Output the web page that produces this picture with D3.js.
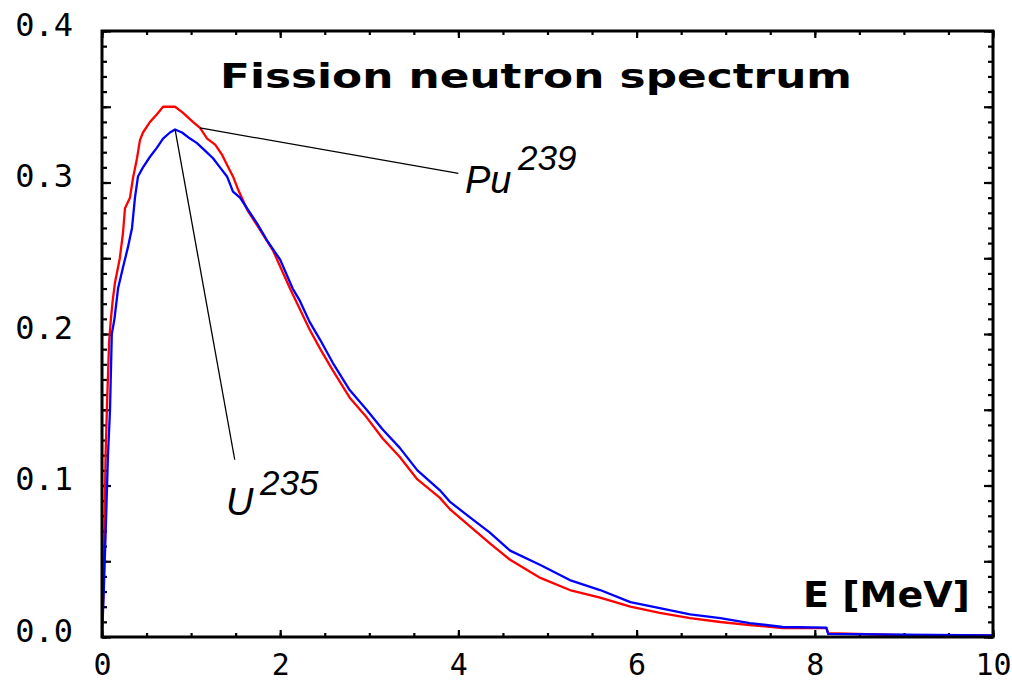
<!DOCTYPE html>
<html>
<head>
<meta charset="utf-8">
<script src="https://cdn.jsdelivr.net/npm/d3@7"></script>
<style>
  html, body { margin: 0; padding: 0; background: #fff; }
  svg { display: block; }
</style>
</head>
<body>
<svg id="chart" width="1012" height="683"></svg>
<script>
// Energy grid (MeV) and spectrum values for Pu-239
const puE = [0, 0.01, 0.02, 0.04, 0.06, 0.08, 0.10, 0.12, 0.146, 0.20,
  0.236, 0.258, 0.314, 0.348, 0.393, 0.426, 0.46, 0.539, 0.617, 0.685,
  0.82, 0.91, 1.02, 1.10, 1.18, 1.27, 1.35, 1.40, 1.47, 1.53,
  1.63, 1.77, 1.92, 2.11, 2.33, 2.45, 2.59, 2.78, 2.97, 3.15,
  3.34, 3.54, 3.79, 3.91, 4.13, 4.35, 4.58, 4.92, 5.25, 5.59,
  5.93, 6.26, 6.6, 6.94, 7.27, 7.64, 8.13, 8.15, 9.0, 10];
const puVal = [0, 0.02, 0.035, 0.12, 0.16, 0.195, 0.21, 0.222, 0.234, 0.25,
  0.267, 0.283, 0.29, 0.303, 0.316, 0.328, 0.333, 0.34, 0.345, 0.35,
  0.35, 0.346, 0.34, 0.336, 0.329, 0.325, 0.318, 0.312, 0.304, 0.295,
  0.282, 0.269, 0.255, 0.23, 0.203, 0.19, 0.176, 0.158, 0.145, 0.131,
  0.119, 0.104, 0.092, 0.084, 0.073, 0.062, 0.051, 0.039, 0.031, 0.026,
  0.020, 0.016, 0.0125, 0.0099, 0.0079, 0.0059, 0.0059, 0.0025, 0.0012, 0.001];

// Energy grid (MeV) and spectrum values for U-235
const uE = [0, 0.01, 0.02, 0.045, 0.067, 0.09, 0.11, 0.14, 0.18, 0.236,
  0.29, 0.337, 0.37, 0.404, 0.46, 0.539, 0.617, 0.685, 0.763, 0.82,
  0.898, 0.988, 1.066, 1.156, 1.246, 1.324, 1.403, 1.47, 1.549, 1.627,
  1.74, 1.85, 2.0, 2.14, 2.22, 2.33, 2.45, 2.59, 2.78, 2.97,
  3.15, 3.34, 3.54, 3.79, 3.91, 4.13, 4.35, 4.58, 4.92, 5.25,
  5.59, 5.93, 6.26, 6.6, 6.94, 7.27, 7.64, 8.13, 8.15, 9.0, 10];
const uVal = [0, 0.015, 0.03, 0.077, 0.12, 0.15, 0.2, 0.21, 0.23, 0.244,
  0.257, 0.27, 0.29, 0.304, 0.31, 0.317, 0.323, 0.329, 0.333, 0.335,
  0.333, 0.329, 0.326, 0.321, 0.316, 0.31, 0.304, 0.294, 0.29, 0.283,
  0.273, 0.262, 0.249, 0.23, 0.222, 0.208, 0.196, 0.181, 0.163, 0.150,
  0.137, 0.125, 0.110, 0.097, 0.089, 0.079, 0.069, 0.057, 0.0475, 0.0376,
  0.031, 0.023, 0.019, 0.015, 0.0125, 0.0092, 0.0066, 0.0062, 0.002, 0.0015, 0.001];

// Tick values
const xLabelTicks = [0, 2, 4, 6, 8, 10];
const yLabelTicks = [0, 0.1, 0.2, 0.3, 0.4];

// Annotation anchors in data units: [E, value] on curve -> [E, value] near label
const puPointer = [[1.10, 0.336], [4.0, 0.306]];
const uPointer = [[0.82, 0.335], [1.49, 0.117]];

const svg = d3.select("#chart");
const plotL = 102, plotR = 993, plotT = 31, plotB = 637;

const x = d3.scaleLinear().domain([0, 10]).range([plotL, plotR]);
const y = d3.scaleLinear().domain([0, 0.4]).range([plotB, plotT]);

const tickFont = "'DejaVu Sans Mono', monospace";

// Minor / major tick marks on all four sides (pointing inward)
function ticks(axisGen, transform) {
  const g = svg.append("g").attr("transform", transform).call(axisGen);
  g.select(".domain").remove();
  g.selectAll(".tick line").attr("stroke", "#000").attr("stroke-width", 2.2);
  return g;
}
const yMinor = d3.range(0, 0.4001, 0.01);
const yMajor = d3.range(0, 0.4001, 0.05);
const xMinor = d3.range(0, 10.001, 0.5);
const xMajor = d3.range(0, 10.001, 2);

ticks(d3.axisLeft(y).tickValues(yMinor).tickSize(-5).tickFormat(""), `translate(${plotL},0)`);
ticks(d3.axisLeft(y).tickValues(yMajor).tickSize(-9).tickFormat(""), `translate(${plotL},0)`);
ticks(d3.axisRight(y).tickValues(yMinor).tickSize(-5).tickFormat(""), `translate(${plotR},0)`);
ticks(d3.axisRight(y).tickValues(yMajor).tickSize(-9).tickFormat(""), `translate(${plotR},0)`);
ticks(d3.axisBottom(x).tickValues(xMinor).tickSize(-4).tickFormat(""), `translate(0,${plotB})`);
ticks(d3.axisBottom(x).tickValues(xMajor).tickSize(-7).tickFormat(""), `translate(0,${plotB})`);
ticks(d3.axisTop(x).tickValues(xMinor).tickSize(-4).tickFormat(""), `translate(0,${plotT})`);
ticks(d3.axisTop(x).tickValues(xMajor).tickSize(-7).tickFormat(""), `translate(0,${plotT})`);

// Tick labels
const yl = svg.append("g").attr("transform", `translate(${plotL},0)`)
  .call(d3.axisLeft(y).tickValues(yLabelTicks).tickSize(0).tickPadding(29).tickFormat(d3.format(".1f")));
yl.select(".domain").remove();
yl.selectAll("text").attr("font-family", tickFont).attr("font-size", 32)
  .attr("fill", "#000").attr("transform", "translate(0,-6)");

const xl = svg.append("g").attr("transform", `translate(0,${plotB})`)
  .call(d3.axisBottom(x).tickValues(xLabelTicks).tickSize(0).tickPadding(0).tickFormat(d3.format("d")));
xl.select(".domain").remove();
xl.selectAll("text").attr("font-family", tickFont).attr("font-size", 30)
  .attr("fill", "#000").attr("dy", null).attr("y", 38);

// Spectrum curves
const line = d3.line().x(d => x(d[0])).y(d => y(d[1]));
svg.append("path").datum(d3.zip(puE, puVal))
  .attr("d", line).attr("fill", "none").attr("stroke", "#ff0000")
  .attr("stroke-width", 2.3).attr("stroke-linejoin", "round");
svg.append("path").datum(d3.zip(uE, uVal))
  .attr("d", line).attr("fill", "none").attr("stroke", "#0000ff")
  .attr("stroke-width", 2.3).attr("stroke-linejoin", "round");

// Plot frame
svg.append("rect").attr("x", plotL).attr("y", plotT)
  .attr("width", plotR - plotL).attr("height", plotB - plotT)
  .attr("fill", "none").attr("stroke", "#000").attr("stroke-width", 3);

// Title and axis label
svg.append("text").attr("x", 220).attr("y", 88)
  .attr("font-family", "'DejaVu Sans', sans-serif").attr("font-weight", "bold")
  .attr("font-size", 33).attr("textLength", 632).attr("lengthAdjust", "spacingAndGlyphs")
  .text("Fission neutron spectrum");
svg.append("text").attr("x", 803).attr("y", 607)
  .attr("font-family", "'DejaVu Sans', sans-serif").attr("font-weight", "bold")
  .attr("font-size", 36).attr("textLength", 167).attr("lengthAdjust", "spacingAndGlyphs")
  .text("E [MeV]");

// Isotope annotations
const ptr = d3.line().x(d => x(d[0])).y(d => y(d[1]));
svg.append("path").attr("d", ptr(puPointer)).attr("stroke", "#000").attr("stroke-width", 1.3).attr("fill", "none");
svg.append("path").attr("d", ptr(uPointer)).attr("stroke", "#000").attr("stroke-width", 1.3).attr("fill", "none");

const annFont = "'Liberation Sans', Arial, sans-serif";
function isotope(sym, mass, xs, ys, xm, ym) {
  svg.append("text").attr("x", xs).attr("y", ys).attr("font-family", annFont)
    .attr("font-style", "italic").attr("font-size", 38).text(sym);
  svg.append("text").attr("x", xm).attr("y", ym).attr("font-family", annFont)
    .attr("font-style", "italic").attr("font-size", 35).text(mass);
}
isotope("Pu", "239", 465, 193, 518, 170);
isotope("U", "235", 226, 515, 260, 495);
</script>
</body>
</html>
